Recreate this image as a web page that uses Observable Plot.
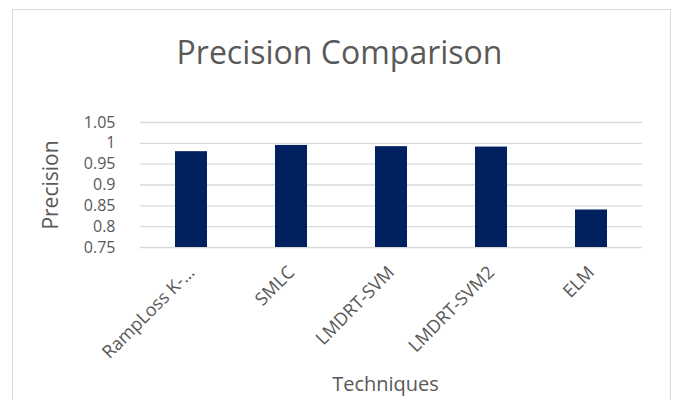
<!DOCTYPE html>
<html>
<head>
<meta charset="utf-8">
<script src="https://cdn.jsdelivr.net/npm/d3@7"></script>
<script src="https://cdn.jsdelivr.net/npm/@observablehq/plot@0.6"></script>
<style>
  body { margin: 0; background: #fff; }
  #wrap { position: relative; width: 675px; height: 400px; overflow: hidden; font-family: "Open Sans", Lato, sans-serif; }
  #frame { position: absolute; left: 12px; top: 9px; width: 659px; height: 420px; border: 1px solid #d9d9d9; box-sizing: border-box; }
  #title { position: relative; height: 90px; line-height: 104px; text-align: center; font-size: 32px; color: #595959; padding-left: 4px; box-sizing: border-box; }
  #chart { position: relative; }
</style>
</head>
<body>
<div id="wrap">
  <div id="frame"></div>
  <div id="title">Precision Comparison</div>
  <div id="chart"></div>
</div>
<script>
const techniques = ["RampLoss K-…", "SMLC", "LMDRT-SVM", "LMDRT-SVM2", "ELM"];
const precision = [0.98, 0.995, 0.992, 0.991, 0.84];
const yTicks = [0.75, 0.8, 0.85, 0.9, 0.95, 1, 1.05];
const yTickLabels = ["0.75", "0.8", "0.85", "0.9", "0.95", "1", "1.05"];
const yTitle = "Precision";
const xTitle = "Techniques";

const data = techniques.map((t, i) => ({technique: t, value: precision[i]}));
const textStyle = {fontFamily: "'Open Sans', Lato, sans-serif", color: "#595959"};

const chart = Plot.plot({
  width: 675,
  height: 310,
  marginTop: 32,
  marginBottom: 153,
  marginLeft: 140,
  marginRight: 33,
  style: textStyle,
  x: {domain: techniques, paddingInner: 0.68, paddingOuter: 0.34},
  y: {domain: [0.75, 1.05]},
  marks: [
    Plot.ruleY(yTicks, {stroke: "#d9d9d9", strokeWidth: 1.4}),
    Plot.barY(data, {x: "technique", y: "value", fill: "#002060", clip: true}),
    Plot.axisY({
      ticks: yTicks,
      tickFormat: (d) => yTickLabels[yTicks.indexOf(d)],
      tickSize: 0,
      tickPadding: 25,
      fontSize: 16,
      label: null
    }),
    Plot.axisX({
      tickSize: 0,
      tickPadding: 22,
      tickRotate: -45,
      fontSize: 18,
      label: null
    }),
    Plot.text([yTitle], {frameAnchor: "left", textAnchor: "middle", dx: -89, rotate: -90, fontSize: 21, fill: "#595959"}),
    Plot.text([xTitle], {frameAnchor: "bottom", textAnchor: "middle", dx: -6, dy: 143, fontSize: 20, fill: "#595959"})
  ]
});
document.getElementById("chart").appendChild(chart);
</script>
</body>
</html>
